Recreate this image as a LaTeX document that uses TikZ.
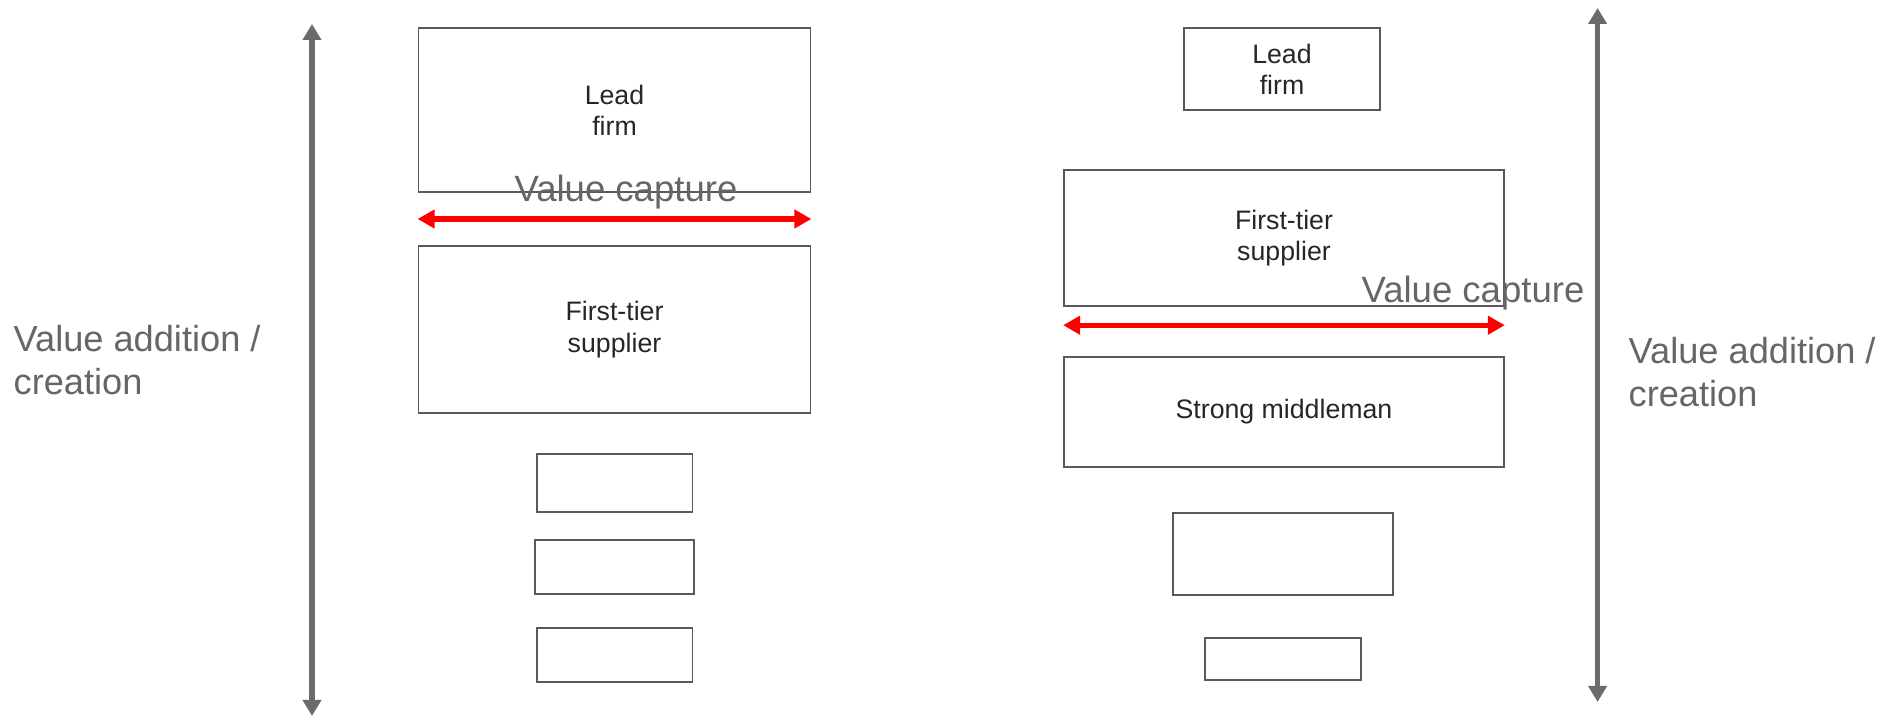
\documentclass[tikz,border=0pt]{standalone}
\usepackage{fontspec}
\setmainfont{Liberation Sans}
\usetikzlibrary{arrows.meta}
\usetikzlibrary{calc,positioning}

\newcommand{\firmfont}{\fontsize{7.6}{8.9}\selectfont}
\newcommand{\lblfont}{\fontsize{10.3}{12.2}\selectfont}

\tikzset{
	firm/.style={draw=black!65, line width=0.5pt, inner sep=0pt, align=center,
		font=\firmfont, text=black!85},
	lbl/.style={text=black!60, font=\lblfont, align=left, inner sep=0pt},
	capt/.style={text=black!60, font=\fontsize{10.4}{12}\selectfont, inner sep=0pt},
	valueaxis/.style={draw=black!58, line width=1.5pt,
		{Triangle[length=0.16cm,width=0.18cm]}-{Triangle[length=0.16cm,width=0.18cm]}},
	captarrow/.style={draw=red, line width=1.5pt,
		{Triangle[length=0.17cm,width=0.18cm]}-{Triangle[length=0.17cm,width=0.18cm]}}
}

\begin{document}
\begin{tikzpicture}
	\useasboundingbox (0,0) rectangle (19.04,-7.17);

	% left chain
	\node[firm, minimum width=3.92cm, minimum height=1.64cm] (leadL) at (6.145,-1.10) {Lead\\firm};
	\node[firm, minimum width=3.92cm, minimum height=1.67cm] (firstL) at (6.145,-3.295) {First-tier\\supplier};
	\node[firm, minimum width=1.555cm, minimum height=0.58cm] (subL1) at (6.148,-4.83) {};
	\node[firm, minimum width=1.59cm, minimum height=0.54cm] (subL2) at (6.145,-5.67) {};
	\node[firm, minimum width=1.555cm, minimum height=0.54cm] (subL3) at (6.148,-6.55) {};

	\coordinate (topL) at (3.12,-0.24);
	\coordinate (botL) at (3.12,-7.16);
	\draw[valueaxis] (botL) -- (topL);
	\node[lbl, anchor=west] (addL) at (0.13,-3.605) {Value addition /\\creation};

	\coordinate (capLw) at ($(leadL.south west)!0.5!(firstL.north west)$);
	\coordinate (capLe) at ($(leadL.south east)!0.5!(firstL.north east)$);
	\draw[captarrow] (capLw) -- (capLe);
	\node[capt, anchor=base] (captL) at (6.26,-2.02) {Value capture};

	% right chain
	\node[firm, minimum width=1.966cm, minimum height=0.82cm] (leadR) at (12.82,-0.69) {Lead\\firm};
	\node[firm, minimum width=4.40cm, minimum height=1.36cm] (firstR) at (12.84,-2.38) {First-tier\\supplier};
	\node[firm, minimum width=4.40cm, minimum height=1.106cm] (midR) at (12.84,-4.12) {Strong middleman};
	\node[firm, minimum width=2.20cm, minimum height=0.82cm] (subR1) at (12.83,-5.54) {};
	\node[firm, minimum width=1.557cm, minimum height=0.423cm] (subR2) at (12.83,-6.59) {};

	\coordinate (topR) at (15.976,-0.08);
	\coordinate (botR) at (15.976,-7.02);
	\draw[valueaxis] (botR) -- (topR);
	\node[lbl, anchor=west] (addR) at (16.28,-3.72) {Value addition /\\creation};

	\coordinate (capRw) at ($(firstR.south west)!0.375!(midR.north west)$);
	\coordinate (capRe) at ($(firstR.south east)!0.375!(midR.north east)$);
	\draw[captarrow] (capRw) -- (capRe);
	\node[capt, anchor=base] (captR) at (14.73,-3.03) {Value capture};
\end{tikzpicture}
\end{document}
